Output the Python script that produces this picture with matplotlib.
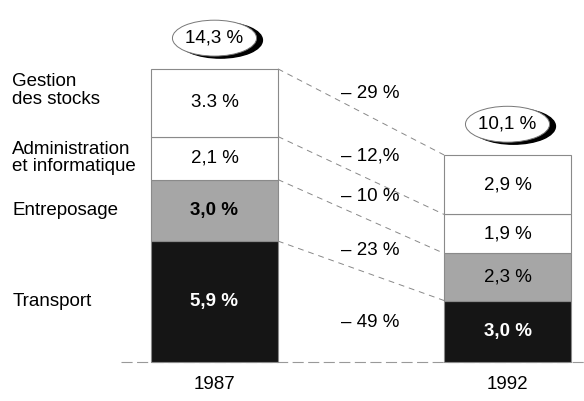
import numpy as np
import matplotlib.pyplot as plt
from matplotlib.patches import Ellipse

plt.rcParams['font.family'] = ['Liberation Sans', 'DejaVu Sans']

# data (bottom -> top)
categories = ["Transport", "Entreposage", "Administration\net informatique", "Gestion\ndes stocks"]
years = ["1987", "1992"]
vals_1987 = [5.9, 3.0, 2.1, 3.3]
vals_1992 = [3.0, 2.3, 1.9, 2.9]
labels_1987 = ["5,9 %", "3,0 %", "2,1 %", "3.3 %"]
labels_1992 = ["3,0 %", "2,3 %", "1,9 %", "2,9 %"]
totals = ["14,3 %", "10,1 %"]
changes = ["– 49 %", "– 23 %", "– 10 %", "– 12,%", "– 29 %"]

colors = ["#151515", "#a6a6a6", "white", "white"]
txt_colors = ["white", "black", "black", "black"]

fig = plt.figure(figsize=(5.84, 4.01), dpi=100)
ax = fig.add_axes([0, 0, 1, 1])
ax.set_xlim(-0.732, 1.261)
ax.set_ylim(-1.902, 17.66)
ax.axis("off")

w = 0.433
xs = [0, 1]
fs = 13.5

# baseline
ax.plot([-0.32, 1.3], [0, 0], color="#999999", lw=0.8, ls=(0, (10, 4)), zorder=1)

tops = []
for xi, vals, labs in zip(xs, [vals_1987, vals_1992], [labels_1987, labels_1992]):
    bottoms = np.concatenate([[0], np.cumsum(vals)[:-1]])
    ax.bar(xi, vals, bottom=bottoms, width=w, color=colors,
           edgecolor="#8a8a8a", linewidth=0.8, zorder=2)
    for i in range(len(vals)):
        is_bold = (i == 0) or (xi == 0 and i == 1)
        ax.text(xi, bottoms[i] + vals[i] / 2, labs[i], ha="center", va="center",
                fontsize=fs, color=txt_colors[i],
                fontweight="bold" if is_bold else "normal", zorder=3)
    tops.append(np.cumsum(vals))

# dashed connectors between segment tops
for i in range(len(vals_1987)):
    ax.plot([w / 2, 1 - w / 2], [tops[0][i], tops[1][i]], color="#888888",
            lw=0.7, ls=(0, (6, 5)), zorder=1)

# change labels, just above each connector (bottom one sits in the band)
lx = 0.531
frac = (lx - w / 2) / (1 - w)
line_at = tops[0] + frac * (tops[1] - tops[0])
for i, c in enumerate(changes):
    y = 1.95 if i == 0 else line_at[i - 1] + 1.15
    ax.text(lx, y, c, ha="center", va="center", fontsize=fs)

# category labels on the left
b87 = np.concatenate([[0], np.cumsum(vals_1987)[:-1]])
for i, cat in enumerate(categories):
    y = b87[i] + vals_1987[i] / 2
    if i == 3:
        y += 0.6
    ax.text(-0.69, y, cat, ha="left", va="center", fontsize=fs, linespacing=1.05)

# totals in ellipses
for xi, tot, t in zip(xs, totals, [tops[0][-1], tops[1][-1]]):
    yc = t + 1.5
    ew, eh = 0.287, 1.75
    ax.add_patch(Ellipse((xi + 0.02, yc - 0.1), ew, eh, facecolor="black",
                         edgecolor="black", zorder=4))
    ax.add_patch(Ellipse((xi, yc), ew, eh, facecolor="white",
                         edgecolor="#777777", lw=0.7, zorder=5))
    ax.text(xi, yc, tot, ha="center", va="center", fontsize=fs, zorder=6)

# year labels
for xi, yr in zip(xs, years):
    ax.text(xi, -1.1, yr, ha="center", va="center", fontsize=fs)

fig.savefig("out.png", dpi=100)
